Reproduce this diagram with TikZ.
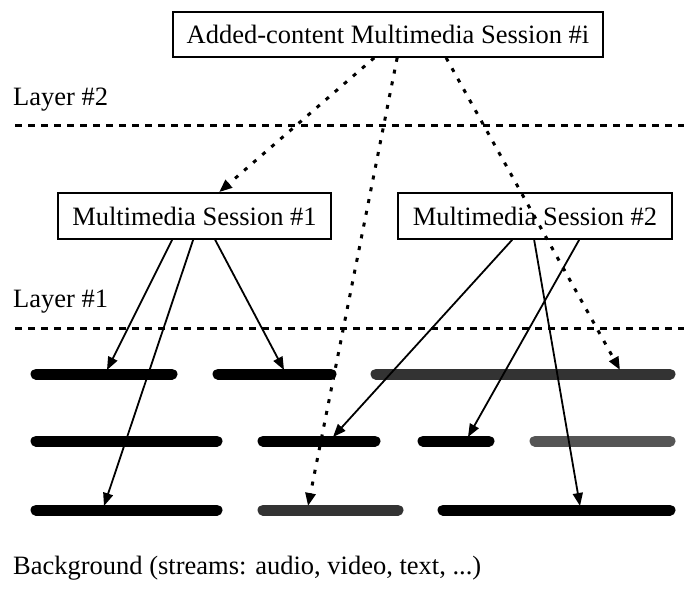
\documentclass[tikz,border=0pt]{standalone}
\usepackage{fontspec}
\setmainfont{Liberation Serif}
\usetikzlibrary{arrows.meta}
\definecolor{barblack}{HTML}{000000}
\definecolor{bardark}{HTML}{333333}
\definecolor{bargray}{HTML}{555555}
\begin{document}
\begin{tikzpicture}[x=1pt,y=-1pt,
  box/.style={draw,line width=1.7pt,inner sep=0pt,font=\fontsize{26.5}{30}\selectfont},
  lbl/.style={anchor=west,inner sep=0pt,font=\fontsize{26.5}{30}\selectfont},
  layerline/.style={line width=3pt,dash pattern=on 7pt off 6pt},
  dotarrow/.style={line width=3pt,dash pattern=on 4pt off 8pt,-{Triangle[length=13pt,width=10pt]}},
  solidarrow/.style={line width=1.8pt,-{Triangle[length=13pt,width=10pt]}},
  bar/.style={line width=11pt,line cap=round},
]
\useasboundingbox (0,0) rectangle (684,588);

% labels
\node[lbl] (l2) at (13,100) {Layer \#2};
\node[lbl] (l1) at (13,302) {Layer \#1};
\node[lbl] (bg) at (13,568) {Background (streams: audio, video, text, ...)};

% layer lines
\coordinate (l2a) at (15,126); \coordinate (l2b) at (684,126);
\coordinate (l1a) at (15,328); \coordinate (l1b) at (684,328);
\draw[layerline] (l2a) -- (l2b);
\draw[layerline] (l1a) -- (l1b);

% bars
\coordinate (A1) at (36,374);  \coordinate (A2) at (172,374);
\coordinate (B1) at (218,374); \coordinate (B2) at (331,374);
\coordinate (C1) at (376,374); \coordinate (C2) at (670,374);
\coordinate (D1) at (36,441);  \coordinate (D2) at (217,441);
\coordinate (E1) at (263,441); \coordinate (E2) at (375,441);
\coordinate (F1) at (423,441); \coordinate (F2) at (489,441);
\coordinate (G1) at (535,441); \coordinate (G2) at (670,441);
\coordinate (H1) at (36,510);  \coordinate (H2) at (217,510);
\coordinate (I1) at (263,510); \coordinate (I2) at (398,510);
\coordinate (J1) at (443,510); \coordinate (J2) at (670,510);
\draw[bar,barblack] (A1) -- (A2);
\draw[bar,barblack] (B1) -- (B2);
\draw[bar,bardark]  (C1) -- (C2);
\draw[bar,barblack] (D1) -- (D2);
\draw[bar,barblack] (E1) -- (E2);
\draw[bar,barblack] (F1) -- (F2);
\draw[bar,bargray]  (G1) -- (G2);
\draw[bar,barblack] (H1) -- (H2);
\draw[bar,bardark]  (I1) -- (I2);
\draw[bar,barblack] (J1) -- (J2);

% boxes
\node[box, minimum width=430pt, minimum height=45pt] (top) at (388,34.5) {Added-content Multimedia Session \#i};
\node[box, minimum width=273pt, minimum height=46pt] (ms1) at (194.5,216) {Multimedia Session \#1};
\node[box, minimum width=274pt, minimum height=46pt] (ms2) at (535,216) {Multimedia Session \#2};

% arrow tips
\coordinate (tA) at (107,370);
\coordinate (tB) at (284,370);
\coordinate (tC) at (620,370);
\coordinate (tE) at (333,437);
\coordinate (tF) at (468,437);
\coordinate (tH) at (104,506);
\coordinate (tI) at (308,506);
\coordinate (tJ) at (580,506);

% dotted arrows from the added-content session
\draw[dotarrow] ([xshift=202pt]top.south west) -- ([xshift=162pt]ms1.north west);
\draw[dotarrow] ([xshift=225pt]top.south west) -- (tI);
\draw[dotarrow] ([xshift=274pt]top.south west) -- (tC);

% session 1
\draw[solidarrow] ([xshift=115pt]ms1.south west) -- (tA);
\draw[solidarrow] ([xshift=136pt]ms1.south west) -- (tH);
\draw[solidarrow] ([xshift=158pt]ms1.south west) -- (tB);

% session 2
\draw[solidarrow] ([xshift=115pt]ms2.south west) -- (tE);
\draw[solidarrow] ([xshift=137pt]ms2.south west) -- (tJ);
\draw[solidarrow] ([xshift=182pt]ms2.south west) -- (tF);
\end{tikzpicture}
\end{document}
